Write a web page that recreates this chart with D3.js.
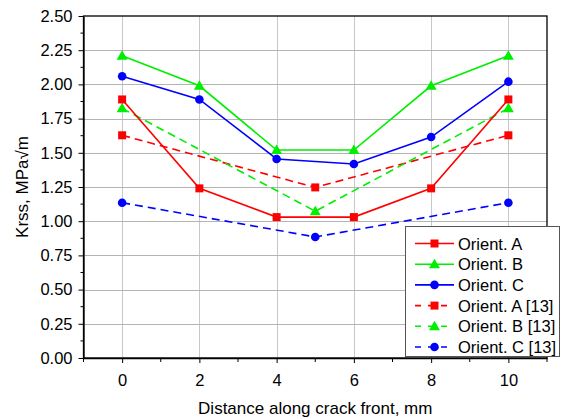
<!DOCTYPE html>
<html><head><meta charset="utf-8">
<script src="https://cdn.jsdelivr.net/npm/d3@7"></script>
<style>body{margin:0;background:#fff}svg{display:block}text{font-family:"Liberation Sans",Arial,sans-serif;fill:#000}</style>
</head><body><div id="chart"></div>
<script>
const xA = [0, 2, 4, 6, 8, 10];
const orientA = [1.89, 1.24, 1.03, 1.03, 1.24, 1.89];
const orientB = [2.21, 1.99, 1.52, 1.52, 1.99, 2.21];
const orientC = [2.06, 1.89, 1.455, 1.418, 1.615, 2.02];
const xRef = [0, 5, 10];
const orientA13 = [1.628, 1.247, 1.628];
const orientB13 = [1.825, 1.073, 1.825];
const orientC13 = [1.135, 0.885, 1.135];
const xTicks = [0, 2, 4, 6, 8, 10];
const yTicks = [0, 0.25, 0.5, 0.75, 1.0, 1.25, 1.5, 1.75, 2.0, 2.25, 2.5];
const seriesNames = ["Orient. A", "Orient. B", "Orient. C", "Orient. A [13]", "Orient. B [13]", "Orient. C [13]"];

const W = 565, H = 419;
const m = {l: 83.5, r: 547, t: 16, b: 358};
const svg = d3.select("#chart").append("svg").attr("width", W).attr("height", H);
const x = d3.scaleLinear().domain([-1, 11]).range([m.l, m.r]);
const y = d3.scaleLinear().domain([0, 2.5]).range([m.b, m.t]);

// grid
svg.append("g").selectAll("line").data(xTicks).join("line")
  .attr("x1", d => Math.round(x(d)) + 0.5).attr("x2", d => Math.round(x(d)) + 0.5)
  .attr("y1", m.t).attr("y2", m.b).attr("stroke", "#c8c8c8").attr("stroke-width", 1);
svg.append("g").selectAll("line").data(yTicks.slice(1, -1)).join("line")
  .attr("y1", d => Math.round(y(d)) + 0.5).attr("y2", d => Math.round(y(d)) + 0.5)
  .attr("x1", m.l).attr("x2", m.r).attr("stroke", "#b4b4b4").attr("stroke-width", 1);

// frame
svg.append("rect").attr("x", m.l).attr("y", m.t).attr("width", m.r - m.l).attr("height", m.b - m.t)
  .attr("fill", "none").attr("stroke", "#000").attr("stroke-width", 1.3);

// axes
const xAxis = d3.axisBottom(x).tickValues(xTicks).tickSize(5).tickSizeOuter(0).tickPadding(11).tickFormat(d3.format("d"));
const gx = svg.append("g").attr("transform", `translate(0,${m.b})`).call(xAxis);
const xMinor = d3.range(-1, 12, 1).filter(v => v % 2 !== 0);
gx.selectAll(".minor").data(xMinor).join("line").attr("class", "minor")
  .attr("x1", d => x(d)).attr("x2", d => x(d)).attr("y1", 0).attr("y2", 4).attr("stroke", "#000");
const yAxis = d3.axisLeft(y).tickValues(yTicks).tickSize(5).tickSizeOuter(0).tickPadding(6).tickFormat(d3.format(".2f"));
const gy = svg.append("g").attr("transform", `translate(${m.l},0)`).call(yAxis);
const yMinor = d3.range(0.125, 2.5, 0.25);
gy.selectAll(".minor").data(yMinor).join("line").attr("class", "minor")
  .attr("x1", 0).attr("x2", -3).attr("y1", d => y(d)).attr("y2", d => y(d)).attr("stroke", "#000");
[gx, gy].forEach(g => {
  g.select(".domain").attr("stroke", "#000").attr("stroke-width", 1.3);
  g.selectAll("text").style("font-size", "16.5px").style("font-family", "Liberation Sans, Arial, sans-serif");
});

// titles
svg.append("text").attr("x", (m.l + m.r) / 2).attr("y", 413.5).attr("text-anchor", "middle")
  .style("font-size", "17px").text("Distance along crack front, mm");
svg.append("text").attr("transform", `translate(28,${(m.t + m.b) / 2}) rotate(-90)`).attr("text-anchor", "middle")
  .style("font-size", "17px").text("Krss, MPa√m");

const series = [
  {name: seriesNames[0], xs: xA, ys: orientA, color: "#ff0000", sym: "square", dash: null},
  {name: seriesNames[1], xs: xA, ys: orientB, color: "#00ee00", sym: "triangle", dash: null},
  {name: seriesNames[2], xs: xA, ys: orientC, color: "#0000ff", sym: "circle", dash: null},
  {name: seriesNames[3], xs: xRef, ys: orientA13, color: "#ff0000", sym: "square", dash: "8,5"},
  {name: seriesNames[4], xs: xRef, ys: orientB13, color: "#00ee00", sym: "triangle", dash: "8,5"},
  {name: seriesNames[5], xs: xRef, ys: orientC13, color: "#0000ff", sym: "circle", dash: "8,5"},
];
const symMap = {square: d3.symbolSquare, triangle: d3.symbolTriangle, circle: d3.symbolCircle};
const symSize = {square: 64, triangle: 52, circle: 58};
const line = d3.line().x(d => x(d[0])).y(d => y(d[1]));

const order = [3, 4, 5, 0, 1, 2];
order.forEach(i => {
  const s = series[i];
  const pts = s.xs.map((v, j) => [v, s.ys[j]]);
  svg.append("path").attr("d", line(pts)).attr("fill", "none").attr("stroke", s.color)
    .attr("stroke-width", 1.6).attr("stroke-dasharray", s.dash);
  svg.append("g").selectAll("path").data(pts).join("path")
    .attr("transform", d => `translate(${x(d[0])},${y(d[1]) + (s.sym === "triangle" ? 0.8 : 0)})`)
    .attr("d", d3.symbol().type(symMap[s.sym]).size(symSize[s.sym])).attr("fill", s.color);
});

// legend
const lg = svg.append("g");
lg.append("rect").attr("x", 405.5).attr("y", 226.5).attr("width", 154).attr("height", 130)
  .attr("fill", "#fff").attr("stroke", "#555").attr("stroke-width", 1);
series.forEach((s, i) => {
  const cy = 243.5 + i * 20.7;
  lg.append("line").attr("x1", 415).attr("x2", 454).attr("y1", cy).attr("y2", cy)
    .attr("stroke", s.color).attr("stroke-width", 1.6).attr("stroke-dasharray", s.dash ? "6,7" : null);
  lg.append("path").attr("transform", `translate(434.5,${cy + (s.sym === "triangle" ? 0.8 : 0)})`)
    .attr("d", d3.symbol().type(symMap[s.sym]).size(symSize[s.sym])).attr("fill", s.color);
  lg.append("text").attr("x", 458).attr("y", cy + 6).style("font-size", "16.5px").text(s.name);
});
</script></body></html>
